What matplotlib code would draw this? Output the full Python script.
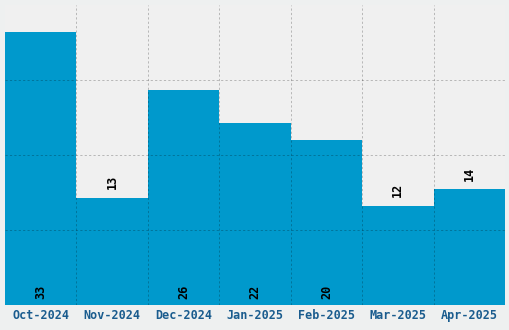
import matplotlib
matplotlib.use("Agg")
import matplotlib.pyplot as plt
import numpy as np

months = ["Oct-2024", "Nov-2024", "Dec-2024", "Jan-2025", "Feb-2025", "Mar-2025", "Apr-2025"]
counts = [33, 13, 26, 22, 20, 12, 14]

BAR = "#0099cc"
TXT = "#1a5c8e"

fig = plt.figure(figsize=(5.1, 3.3), dpi=100, facecolor="#eef0f0")
ax = fig.add_axes([5 / 510, 25 / 330, 500 / 510, 300 / 330])
ax.set_facecolor("#f0f0f0")

x = np.arange(len(months))
ax.bar(x, counts, width=1.0, color=BAR, zorder=2)

ymax = max(counts) * 1.1
ax.set_xlim(-0.5, len(months) - 0.5)
ax.set_ylim(0, ymax)

# grid at bar edges and at quarters of the height, drawn over the bars
grid_kw = dict(color="black", alpha=0.23, lw=0.72, ls=(0, (2.2, 2.2)), zorder=3)
for e in np.arange(0.5, len(months) - 0.5, 1):
    ax.axvline(e, **grid_kw)
for g in np.linspace(0, ymax, 5)[1:-1]:
    ax.axhline(g, **grid_kw)

ax.set_xticks(x)
ax.set_xticklabels(months, family="DejaVu Sans Mono", weight="bold", fontsize=8.5, color=TXT)
ax.set_yticks([])
ax.tick_params(axis="x", length=0, pad=3)
for s in ax.spines.values():
    s.set_visible(False)

# value labels: inside at the bottom for tall bars, above the bar otherwise
for xi, v in zip(x, counts):
    if v >= 20:
        pos, off = (xi, 0), (0, 4)
    else:
        pos, off = (xi, v), (0, 6)
    ax.annotate(str(v), pos, xytext=off, textcoords="offset points",
                rotation=90, ha="center", va="bottom", fontsize=8.5,
                family="DejaVu Sans Mono", weight="bold", color="black", zorder=4)

fig.savefig("out.png", dpi=100, facecolor=fig.get_facecolor())
